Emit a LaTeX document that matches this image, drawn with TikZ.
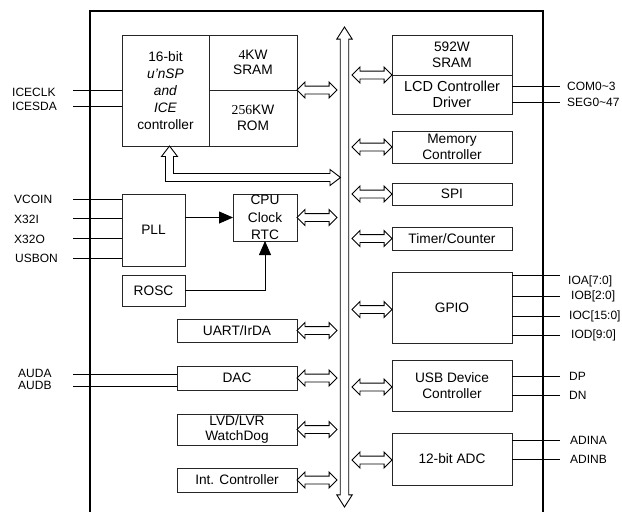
\documentclass[tikz,border=0pt]{standalone}
\usepackage{fontspec}
\setmainfont{Liberation Sans}
\newfontfamily\serifdig{Liberation Serif}
\usetikzlibrary{arrows.meta,shapes.arrows,calc}
\begin{document}
\begin{tikzpicture}[x=1pt,y=-1pt,
  blk/.style={draw=black!85, line width=0.8pt, inner sep=0pt, outer sep=0pt, align=center, font=\fontsize{13.7}{15.5}\selectfont},
  lbl/.style={font=\fontsize{12}{14}\selectfont, inner sep=0pt, anchor=west},
  wire/.style={line width=0.8pt},
  filltip/.style={-{Triangle[length=14pt,width=12pt]}},
  harrow/.style={double arrow, draw, line width=0.9pt, fill=white, inner xsep=0pt, inner ysep=3.5pt, outer sep=0pt, double arrow head extend=4pt, minimum height=40pt},
  busarrow/.style={double arrow, draw, line width=0.9pt, fill=white, inner xsep=0pt, inner ysep=3.8pt, outer sep=0pt, double arrow head extend=3.5pt, double arrow tip angle=65, minimum height=480pt, rotate=90},
  hollow/.style={draw, line width=0.9pt, fill=white},
]
\useasboundingbox (0,0) rectangle (622,512);
% frame
\draw[line width=1.8pt] (90,512) -- (90,11) -- (543,11) -- (543,512);

% blocks left
\node[blk, minimum width=87pt, minimum height=111pt, font=\fontsize{13.7}{17}\selectfont] (cpu) at (165.5,90.5) {16-bit\\\textit{u'nSP}\\\textit{and}\\\textit{ICE}\\controller};
\node[blk, minimum width=88pt, minimum height=55pt] (sram4) at (253,62.5) {{\serifdig 4}KW\\SRAM};
\node[blk, minimum width=88pt, minimum height=56pt] (rom) at (253,118) {{\serifdig 256}KW\\ROM};
\node[blk, minimum width=63pt, minimum height=72pt] (pll) at (153.5,230) {PLL};
\node[blk, minimum width=64pt, minimum height=47pt, font=\fontsize{13.7}{17.5}\selectfont] (clk) at (265,217.5) {CPU\\Clock\\RTC};
\node[blk, minimum width=63pt, minimum height=31pt] (rosc) at (153.5,290.5) {ROSC};
\node[blk, minimum width=120pt, minimum height=23pt] (uart) at (237,330.5) {UART/IrDA};
\node[blk, minimum width=120pt, minimum height=24pt] (dac) at (237,378) {DAC};
\node[blk, minimum width=120pt, minimum height=31pt] (lvd) at (237,429.5) {LVD/LVR\\WatchDog};
\node[blk, minimum width=120pt, minimum height=24pt] (intc) at (237,480) {Int. Controller};

% blocks right
\node[blk, minimum width=120pt, minimum height=40pt] (sram592) at (452,55) {592W\\SRAM};
\node[blk, minimum width=120pt, minimum height=39pt, font=\fontsize{14.5}{16.5}\selectfont] (lcd) at (452,94.5) {LCD Controller\\Driver};
\node[blk, minimum width=120pt, minimum height=32pt] (mem) at (452,147) {Memory\\Controller};
\node[blk, minimum width=120pt, minimum height=22pt] (spi) at (452,194) {SPI};
\node[blk, minimum width=120pt, minimum height=23pt] (tmr) at (452,238.5) {Timer/Counter};
\node[blk, minimum width=120pt, minimum height=71pt] (gpio) at (452,307.5) {GPIO};
\node[blk, minimum width=120pt, minimum height=51pt] (usb) at (452,385.5) {USB Device\\Controller};
\node[blk, minimum width=120pt, minimum height=52pt] (adc) at (452,459) {12-bit ADC};

% bus
\node[busarrow] (bus) at (344.5,267) {};

% hollow arrows left
\node[harrow] (a_mem) at ($(sram4.south east)+(20,0)$) {};
\node[harrow] (a_clk) at ($(clk.east)+(20,0)$) {};
\node[harrow] (a_uart) at ($(uart.east)+(20,0)$) {};
\node[harrow] (a_dac) at ($(dac.east)+(20,0)$) {};
\node[harrow] (a_lvd) at ($(lvd.east)+(20,0)$) {};
\node[harrow] (a_intc) at ($(intc.east)+(20,0)$) {};
% hollow arrows right
\node[harrow] (a_lcd) at ($(lcd.north west)+(-20,0)$) {};
\node[harrow] (a_memc) at ($(mem.west)+(-20,0)$) {};
\node[harrow] (a_spi) at ($(spi.west)+(-20,0)$) {};
\node[harrow] (a_tmr) at ($(tmr.west)+(-20,0)$) {};
\node[harrow] (a_gpio) at ($(gpio.west)+(-20,2)$) {};
\node[harrow] (a_usb) at ($(usb.west)+(-20,1.5)$) {};
\node[harrow] (a_adc) at ($(adc.west)+(-20,1)$) {};

% L-shaped hollow arrow from CPU to bus
\draw[hollow] ($(cpu.south)+(4,0)$) -- ++(8,10.5) -- ++(-4,0) -- ++(0,17) -- ++(156.5,0) -- ++(0,-4) -- ++(10.5,8) -- ++(-10.5,8) -- ++(0,-4) -- ++(-164.5,0) -- ++(0,-25) -- ++(-4,0) -- cycle;

% clock arrows
\draw[wire, filltip] (clk.west -| pll.east) -- (clk.west);
\draw[wire, filltip] (rosc.east) -| (clk.south);

% left labels and wires
\coordinate (w_iceclk) at (73,90);
\coordinate (w_icesda) at (73,106);
\coordinate (w_vcoin) at (73,199);
\coordinate (w_x32i) at (73,218.5);
\coordinate (w_x32o) at (73,238.5);
\coordinate (w_usbon) at (73,258.5);
\coordinate (w_auda) at (73,374);
\coordinate (w_audb) at (73,386);
\draw[wire] (w_iceclk) -- (w_iceclk -| cpu.west);
\draw[wire] (w_icesda) -- (w_icesda -| cpu.west);
\draw[wire] (w_vcoin) -- (w_vcoin -| pll.west);
\draw[wire] (w_x32i) -- (w_x32i -| pll.west);
\draw[wire] (w_x32o) -- (w_x32o -| pll.west);
\draw[wire] (w_usbon) -- (w_usbon -| pll.west);
\draw[wire] (w_auda) -- (w_auda -| dac.west);
\draw[wire] (w_audb) -- (w_audb -| dac.west);
\node[lbl] (l_iceclk) at (12,92) {ICECLK};
\node[lbl] (l_icesda) at (12,106.5) {ICESDA};
\node[lbl] (l_vcoin) at (14,199) {VCOIN};
\node[lbl] (l_x32i) at (14,219) {X32I};
\node[lbl] (l_x32o) at (14,239) {X32O};
\node[lbl] (l_usbon) at (15,258.5) {USBON};
\node[lbl] (l_auda) at (18,373.5) {AUDA};
\node[lbl] (l_audb) at (18,385.5) {AUDB};

% right labels and wires
\coordinate (w_com) at (560,86);
\coordinate (w_seg) at (560,102);
\coordinate (w_ioa) at (560,275);
\coordinate (w_iob) at (560,296.5);
\coordinate (w_ioc) at (560,316.5);
\coordinate (w_iod) at (560,335);
\coordinate (w_dp) at (560,376);
\coordinate (w_dn) at (560,395.5);
\coordinate (w_adina) at (560,440);
\coordinate (w_adinb) at (560,459.5);
\draw[wire] (w_com -| lcd.east) -- (w_com);
\draw[wire] (w_seg -| lcd.east) -- (w_seg);
\draw[wire] (w_ioa -| gpio.east) -- (w_ioa);
\draw[wire] (w_iob -| gpio.east) -- (w_iob);
\draw[wire] (w_ioc -| gpio.east) -- (w_ioc);
\draw[wire] (w_iod -| gpio.east) -- (w_iod);
\draw[wire] (w_dp -| usb.east) -- (w_dp);
\draw[wire] (w_dn -| usb.east) -- (w_dn);
\draw[wire] (w_adina -| adc.east) -- (w_adina);
\draw[wire] (w_adinb -| adc.east) -- (w_adinb);
\node[lbl] (l_com) at (567,86) {COM0\textasciitilde3};
\node[lbl] (l_seg) at (567,102) {SEG0\textasciitilde47};
\node[lbl] (l_ioa) at (568,281) {IOA[7:0]};
\node[lbl] (l_iob) at (571,296.5) {IOB[2:0]};
\node[lbl] (l_ioc) at (569,316.5) {IOC[15:0]};
\node[lbl] (l_iod) at (571,335.5) {IOD[9:0]};
\node[lbl] (l_dp) at (569,376) {DP};
\node[lbl] (l_dn) at (569,395.5) {DN};
\node[lbl] (l_adina) at (570,440) {ADINA};
\node[lbl] (l_adinb) at (570,459.5) {ADINB};
\end{tikzpicture}
\end{document}
